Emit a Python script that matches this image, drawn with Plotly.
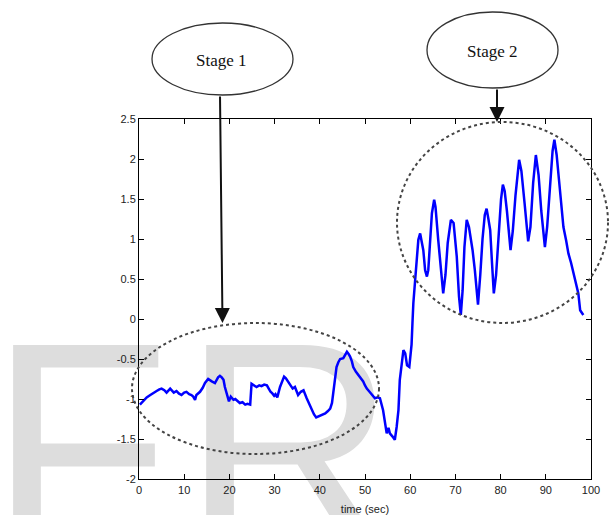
import plotly.graph_objects as go

# ---- data ----
time_sec = [0.2, 0.8, 1.7, 2.5, 3.2, 3.9, 4.5, 5.0, 5.6, 6.1, 6.9, 7.3, 7.7, 8.3, 8.8, 9.4,
            10.0, 10.5, 11.1, 11.6, 12.0, 12.4, 12.7, 13.5, 14.1, 14.6, 15.3, 16.1, 16.8,
            17.5, 17.9, 18.3, 18.7, 19.0, 19.4, 19.9, 20.3, 20.9, 21.3, 21.8, 22.3, 22.9,
            23.5, 24.0, 24.6, 24.9, 25.5, 26.0, 26.6, 27.1, 27.7, 28.3, 28.7, 29.1, 29.5,
            29.9, 30.2, 30.6, 31.2, 31.6, 32.1, 32.5, 33.0, 33.5, 34.0, 34.5, 35.2, 35.8,
            36.4, 37.1, 37.6, 38.2, 38.7, 39.2, 39.6, 40.0, 40.6, 41.2, 41.8, 42.3, 42.7,
            43.0, 43.3, 43.7, 44.1, 44.5, 45.2, 45.6, 46.0, 46.4, 46.7, 47.1, 47.4, 48.0,
            48.5, 49.0, 49.6, 50.0, 50.4, 51.0, 51.5, 52.2, 52.8, 53.3, 54.0, 54.4, 54.8,
            55.2, 55.5, 56.1, 56.6, 57.0, 57.4, 57.7, 58.1, 58.5, 58.9, 59.3, 59.8, 60.3,
            60.5, 60.7, 61.1, 61.4, 61.8, 62.2, 62.5, 62.9, 63.3, 63.7, 64.0, 64.4, 64.8,
            65.3, 65.6, 66.2, 66.8, 67.3, 67.8, 68.3, 69.0, 69.6, 70.3, 70.8, 71.2, 71.6,
            72.0, 72.5, 73.0, 73.8, 74.3, 75.0, 75.5, 76.0, 76.5, 76.9, 77.3, 77.7, 78.1,
            78.5, 79.0, 79.6, 80.1, 80.5, 80.9, 81.4, 81.8, 82.2, 82.7, 83.3, 84.1, 84.6,
            85.3, 86.1, 86.6, 87.2, 87.8, 88.4, 89.0, 89.8, 90.3, 90.9, 91.5, 91.9, 92.4,
            92.9, 93.4, 93.9, 94.5, 95.0, 95.6, 96.1, 96.6, 97.2, 97.6, 98.3]
signal = [-1.07, -1.03, -0.98, -0.95, -0.93, -0.90, -0.88, -0.87, -0.89, -0.92, -0.87, -0.89,
          -0.92, -0.90, -0.93, -0.95, -0.92, -0.91, -0.94, -0.95, -0.97, -1.01, -0.95, -0.91,
          -0.86, -0.80, -0.75, -0.78, -0.80, -0.73, -0.71, -0.73, -0.76, -0.85, -0.93, -1.03,
          -0.97, -1.01, -1.00, -1.02, -1.05, -1.04, -1.07, -1.06, -1.07, -0.81, -0.83, -0.85,
          -0.83, -0.84, -0.82, -0.83, -0.87, -0.91, -0.93, -0.96, -0.94, -0.98, -0.85, -0.78,
          -0.72, -0.74, -0.78, -0.83, -0.87, -0.85, -0.95, -0.91, -0.89, -0.99, -1.06, -1.14,
          -1.19, -1.23, -1.22, -1.20, -1.19, -1.18, -1.15, -1.12, -1.05, -0.93, -0.78, -0.60,
          -0.54, -0.50, -0.49, -0.45, -0.41, -0.44, -0.47, -0.53, -0.60, -0.66, -0.70, -0.74,
          -0.78, -0.83, -0.87, -0.91, -0.95, -0.99, -0.98, -0.99, -1.14, -1.30, -1.43, -1.36,
          -1.43, -1.47, -1.51, -1.35, -1.14, -0.76, -0.55, -0.39, -0.43, -0.58, -0.60, -0.32,
          -0.05, 0.20, 0.49, 0.70, 0.99, 1.07, 0.99, 0.86, 0.61, 0.53, 0.61, 0.99, 1.32,
          1.49, 1.40, 0.99, 0.61, 0.32, 0.55, 0.95, 1.24, 1.20, 0.78, 0.28, 0.05, 0.36,
          0.90, 1.24, 1.15, 0.86, 0.61, 0.18, 0.55, 1.00, 1.30, 1.38, 1.25, 1.11, 0.70,
          0.32, 0.55, 1.05, 1.50, 1.68, 1.60, 1.35, 1.05, 0.86, 1.10, 1.55, 1.99, 1.85,
          1.45, 0.97, 1.15, 1.70, 2.05, 1.80, 1.35, 0.90, 1.15, 1.70, 2.10, 2.24, 2.05,
          1.75, 1.40, 1.15, 0.98, 0.82, 0.70, 0.57, 0.48, 0.32, 0.11, 0.05]

x_ticks = [0, 10, 20, 30, 40, 50, 60, 70, 80, 90, 100]
x_tick_labels = ["0", "10", "20", "30", "40", "50", "60", "70", "80", "90", "100"]
y_ticks = [-2, -1.5, -1, -0.5, 0, 0.5, 1, 1.5, 2, 2.5]
y_tick_labels = ["-2", "-1.5", "-1", "-0.5", "0", "0.5", "1", "1.5", "2", "2.5"]

stage_labels = ["Stage 1", "Stage 2"]
watermark_letters = ["F", "R"]
watermark_x = [6.9, 33.2]
watermark_y = [-1.95, -1.95]
watermark_pos = ["middle left", "middle center"]

# ---- layout geometry (pixels) ----
W, H = 610, 515
L, R, T, B = 139, 591, 119, 479


def px(x):
    return (x - L) / (R - L)


def py(y):
    return (B - y) / (B - T)


fig = go.Figure()

# watermark (drawn first so the line sits on top)
fig.add_trace(go.Scatter(
    x=watermark_x, y=watermark_y, text=watermark_letters, mode="text",
    textposition=watermark_pos,
    textfont=dict(family="Liberation Sans, Arial, sans-serif", size=297, color="#dddddd"),
    cliponaxis=False, hoverinfo="skip", showlegend=False))

fig.add_trace(go.Scatter(
    x=time_sec, y=signal, mode="lines",
    line=dict(color="#0000ff", width=2.5),
    showlegend=False, hoverinfo="skip"))

axis_common = dict(
    showline=True, linecolor="#000000", linewidth=1, mirror="ticks",
    ticks="inside", ticklen=5, tickcolor="#000000", tickwidth=1,
    showgrid=False, zeroline=False, automargin=False,
    tickfont=dict(family="Liberation Sans, Arial, sans-serif", size=11, color="#222222"),
)

fig.update_xaxes(range=[0, 100], tickvals=x_ticks, ticktext=x_tick_labels,
                 ticklabelstandoff=1,
                 title=dict(text="time (sec)", standoff=12,
                            font=dict(family="Liberation Sans, Arial, sans-serif", size=11,
                                      color="#222222")),
                 **axis_common)
fig.update_yaxes(range=[-2, 2.5], tickvals=y_ticks, ticktext=y_tick_labels, **axis_common)

shapes = []
# dotted highlight ellipses
shapes.append(dict(type="circle", xref="paper", yref="paper",
                   x0=px(132), x1=px(379), y0=py(454), y1=py(323),
                   line=dict(color="#444444", width=2, dash="dot")))
shapes.append(dict(type="circle", xref="paper", yref="paper",
                   x0=px(397), x1=px(608), y0=py(323), y1=py(122),
                   line=dict(color="#444444", width=2, dash="dot")))
# stage label ellipses
shapes.append(dict(type="circle", xref="paper", yref="paper",
                   x0=px(152), x1=px(293), y0=py(95), y1=py(23),
                   line=dict(color="#333333", width=1.3)))
shapes.append(dict(type="circle", xref="paper", yref="paper",
                   x0=px(427), x1=px(558), y0=py(88), y1=py(12),
                   line=dict(color="#333333", width=1.3)))
fig.update_layout(shapes=shapes)

annotations = [
    dict(text=stage_labels[0], xref="paper", yref="paper", x=px(221), y=py(61),
         showarrow=False, xanchor="center", yanchor="middle",
         font=dict(family="Liberation Serif, Times New Roman, serif", size=17, color="#111111")),
    dict(text=stage_labels[1], xref="paper", yref="paper", x=px(492), y=py(51),
         showarrow=False, xanchor="center", yanchor="middle",
         font=dict(family="Liberation Serif, Times New Roman, serif", size=17, color="#111111")),
    dict(text="", xref="paper", yref="paper", x=px(222.5), y=py(323),
         ax=-2.5, ay=-228, showarrow=True, arrowhead=2, arrowsize=1.5, arrowwidth=2,
         arrowcolor="#111111"),
    dict(text="", xref="paper", yref="paper", x=px(497), y=py(122),
         ax=0, ay=-34, showarrow=True, arrowhead=2, arrowsize=1.5, arrowwidth=2,
         arrowcolor="#111111"),
]
fig.update_layout(annotations=annotations)

fig.update_layout(
    width=W, height=H,
    margin=dict(l=L, r=W - R, t=T, b=H - B, pad=0, autoexpand=False),
    paper_bgcolor="#ffffff", plot_bgcolor="#ffffff",
    showlegend=False,
)

fig.write_html("out.html", config={"displayModeBar": False},
               post_script="document.body.style.margin='0';document.body.style.overflow='hidden';")
